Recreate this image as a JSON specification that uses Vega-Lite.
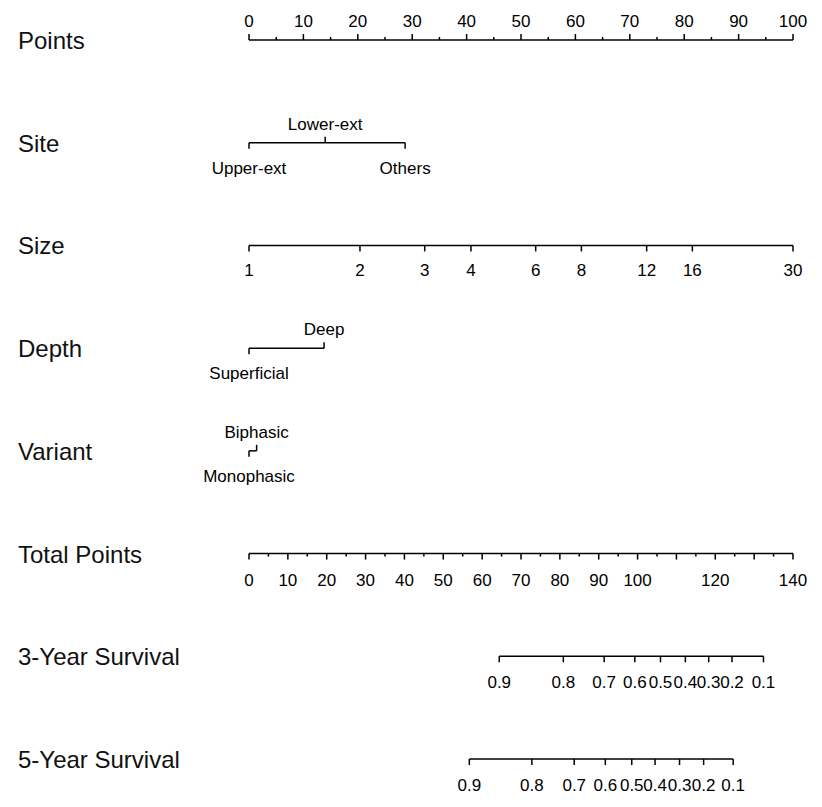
{
  "$schema": "https://vega.github.io/schema/vega-lite/v6.json",
  "width": 822,
  "height": 807,
  "autosize": {"type": "none"},
  "padding": 0,
  "background": "white",
  "config": {"view": {"stroke": null}, "text": {"font": "Liberation Sans", "color": "#000"}},
  "datasets": {
    "titles": [
      {"var": "Points", "row": 0},
      {"var": "Site", "row": 1},
      {"var": "Size", "row": 2},
      {"var": "Depth", "row": 3},
      {"var": "Variant", "row": 4},
      {"var": "Total Points", "row": 5},
      {"var": "3-Year Survival", "row": 6},
      {"var": "5-Year Survival", "row": 7}
    ],
    "ticks": [
      {"var": "Points", "row": 0, "axis": "points", "value": 0, "label": "0", "major": true},
      {"var": "Points", "row": 0, "axis": "points", "value": 5, "label": "", "major": false},
      {"var": "Points", "row": 0, "axis": "points", "value": 10, "label": "10", "major": true},
      {"var": "Points", "row": 0, "axis": "points", "value": 15, "label": "", "major": false},
      {"var": "Points", "row": 0, "axis": "points", "value": 20, "label": "20", "major": true},
      {"var": "Points", "row": 0, "axis": "points", "value": 25, "label": "", "major": false},
      {"var": "Points", "row": 0, "axis": "points", "value": 30, "label": "30", "major": true},
      {"var": "Points", "row": 0, "axis": "points", "value": 35, "label": "", "major": false},
      {"var": "Points", "row": 0, "axis": "points", "value": 40, "label": "40", "major": true},
      {"var": "Points", "row": 0, "axis": "points", "value": 45, "label": "", "major": false},
      {"var": "Points", "row": 0, "axis": "points", "value": 50, "label": "50", "major": true},
      {"var": "Points", "row": 0, "axis": "points", "value": 55, "label": "", "major": false},
      {"var": "Points", "row": 0, "axis": "points", "value": 60, "label": "60", "major": true},
      {"var": "Points", "row": 0, "axis": "points", "value": 65, "label": "", "major": false},
      {"var": "Points", "row": 0, "axis": "points", "value": 70, "label": "70", "major": true},
      {"var": "Points", "row": 0, "axis": "points", "value": 75, "label": "", "major": false},
      {"var": "Points", "row": 0, "axis": "points", "value": 80, "label": "80", "major": true},
      {"var": "Points", "row": 0, "axis": "points", "value": 85, "label": "", "major": false},
      {"var": "Points", "row": 0, "axis": "points", "value": 90, "label": "90", "major": true},
      {"var": "Points", "row": 0, "axis": "points", "value": 95, "label": "", "major": false},
      {"var": "Points", "row": 0, "axis": "points", "value": 100, "label": "100", "major": true},

      {"var": "Site", "row": 1, "axis": "points", "value": 0, "label": "Upper-ext", "major": true},
      {"var": "Site", "row": 1, "axis": "points", "value": 14.0, "label": "Lower-ext", "major": true},
      {"var": "Site", "row": 1, "axis": "points", "value": 28.7, "label": "Others", "major": true},

      {"var": "Size", "row": 2, "axis": "points", "value": 0, "label": "1", "major": true},
      {"var": "Size", "row": 2, "axis": "points", "value": 20.4, "label": "2", "major": true},
      {"var": "Size", "row": 2, "axis": "points", "value": 32.3, "label": "3", "major": true},
      {"var": "Size", "row": 2, "axis": "points", "value": 40.8, "label": "4", "major": true},
      {"var": "Size", "row": 2, "axis": "points", "value": 52.7, "label": "6", "major": true},
      {"var": "Size", "row": 2, "axis": "points", "value": 61.1, "label": "8", "major": true},
      {"var": "Size", "row": 2, "axis": "points", "value": 73.1, "label": "12", "major": true},
      {"var": "Size", "row": 2, "axis": "points", "value": 81.5, "label": "16", "major": true},
      {"var": "Size", "row": 2, "axis": "points", "value": 100, "label": "30", "major": true},

      {"var": "Depth", "row": 3, "axis": "points", "value": 0, "label": "Superficial", "major": true},
      {"var": "Depth", "row": 3, "axis": "points", "value": 13.8, "label": "Deep", "major": true},

      {"var": "Variant", "row": 4, "axis": "points", "value": 0, "label": "Monophasic", "major": true},
      {"var": "Variant", "row": 4, "axis": "points", "value": 1.4, "label": "Biphasic", "major": true},

      {"var": "Total Points", "row": 5, "axis": "total", "value": 0, "label": "0", "major": true},
      {"var": "Total Points", "row": 5, "axis": "total", "value": 5, "label": "", "major": false},
      {"var": "Total Points", "row": 5, "axis": "total", "value": 10, "label": "10", "major": true},
      {"var": "Total Points", "row": 5, "axis": "total", "value": 15, "label": "", "major": false},
      {"var": "Total Points", "row": 5, "axis": "total", "value": 20, "label": "20", "major": true},
      {"var": "Total Points", "row": 5, "axis": "total", "value": 25, "label": "", "major": false},
      {"var": "Total Points", "row": 5, "axis": "total", "value": 30, "label": "30", "major": true},
      {"var": "Total Points", "row": 5, "axis": "total", "value": 35, "label": "", "major": false},
      {"var": "Total Points", "row": 5, "axis": "total", "value": 40, "label": "40", "major": true},
      {"var": "Total Points", "row": 5, "axis": "total", "value": 45, "label": "", "major": false},
      {"var": "Total Points", "row": 5, "axis": "total", "value": 50, "label": "50", "major": true},
      {"var": "Total Points", "row": 5, "axis": "total", "value": 55, "label": "", "major": false},
      {"var": "Total Points", "row": 5, "axis": "total", "value": 60, "label": "60", "major": true},
      {"var": "Total Points", "row": 5, "axis": "total", "value": 65, "label": "", "major": false},
      {"var": "Total Points", "row": 5, "axis": "total", "value": 70, "label": "70", "major": true},
      {"var": "Total Points", "row": 5, "axis": "total", "value": 75, "label": "", "major": false},
      {"var": "Total Points", "row": 5, "axis": "total", "value": 80, "label": "80", "major": true},
      {"var": "Total Points", "row": 5, "axis": "total", "value": 85, "label": "", "major": false},
      {"var": "Total Points", "row": 5, "axis": "total", "value": 90, "label": "90", "major": true},
      {"var": "Total Points", "row": 5, "axis": "total", "value": 95, "label": "", "major": false},
      {"var": "Total Points", "row": 5, "axis": "total", "value": 100, "label": "100", "major": true},
      {"var": "Total Points", "row": 5, "axis": "total", "value": 105, "label": "", "major": false},
      {"var": "Total Points", "row": 5, "axis": "total", "value": 110, "label": "", "major": true},
      {"var": "Total Points", "row": 5, "axis": "total", "value": 115, "label": "", "major": false},
      {"var": "Total Points", "row": 5, "axis": "total", "value": 120, "label": "120", "major": true},
      {"var": "Total Points", "row": 5, "axis": "total", "value": 125, "label": "", "major": false},
      {"var": "Total Points", "row": 5, "axis": "total", "value": 130, "label": "", "major": true},
      {"var": "Total Points", "row": 5, "axis": "total", "value": 135, "label": "", "major": false},
      {"var": "Total Points", "row": 5, "axis": "total", "value": 140, "label": "140", "major": true},

      {"var": "3-Year Survival", "row": 6, "axis": "total", "value": 64.4, "label": "0.9", "major": true},
      {"var": "3-Year Survival", "row": 6, "axis": "total", "value": 80.9, "label": "0.8", "major": true},
      {"var": "3-Year Survival", "row": 6, "axis": "total", "value": 91.4, "label": "0.7", "major": true},
      {"var": "3-Year Survival", "row": 6, "axis": "total", "value": 99.3, "label": "0.6", "major": true},
      {"var": "3-Year Survival", "row": 6, "axis": "total", "value": 105.9, "label": "0.5", "major": true},
      {"var": "3-Year Survival", "row": 6, "axis": "total", "value": 112.3, "label": "0.4", "major": true},
      {"var": "3-Year Survival", "row": 6, "axis": "total", "value": 118.3, "label": "0.3", "major": true},
      {"var": "3-Year Survival", "row": 6, "axis": "total", "value": 124.3, "label": "0.2", "major": true},
      {"var": "3-Year Survival", "row": 6, "axis": "total", "value": 132.4, "label": "0.1", "major": true},

      {"var": "5-Year Survival", "row": 7, "axis": "total", "value": 56.7, "label": "0.9", "major": true},
      {"var": "5-Year Survival", "row": 7, "axis": "total", "value": 72.8, "label": "0.8", "major": true},
      {"var": "5-Year Survival", "row": 7, "axis": "total", "value": 83.7, "label": "0.7", "major": true},
      {"var": "5-Year Survival", "row": 7, "axis": "total", "value": 91.7, "label": "0.6", "major": true},
      {"var": "5-Year Survival", "row": 7, "axis": "total", "value": 98.5, "label": "0.5", "major": true},
      {"var": "5-Year Survival", "row": 7, "axis": "total", "value": 104.5, "label": "0.4", "major": true},
      {"var": "5-Year Survival", "row": 7, "axis": "total", "value": 110.8, "label": "0.3", "major": true},
      {"var": "5-Year Survival", "row": 7, "axis": "total", "value": 117.0, "label": "0.2", "major": true},
      {"var": "5-Year Survival", "row": 7, "axis": "total", "value": 124.6, "label": "0.1", "major": true}
    ]
  },
  "layer": [
    {
      "data": {"name": "titles"},
      "mark": {"type": "text", "align": "left", "baseline": "middle", "fontSize": 24, "dy": 2, "color": "#111"},
      "encoding": {
        "x": {"value": 18},
        "y": {"field": "row", "type": "quantitative", "scale": {"domain": [0, 7], "range": [40, 759], "nice": false, "zero": false}, "axis": null},
        "text": {"field": "var"}
      }
    },
    {
      "data": {"name": "ticks"},
      "transform": [{"filter": "datum.axis == 'points'"}],
      "mark": {"type": "rule", "stroke": "#000", "strokeWidth": 1.5},
      "encoding": {
        "x": {"aggregate": "min", "field": "value", "type": "quantitative", "scale": {"domain": [0, 100], "range": [249, 793], "nice": false, "zero": false}, "axis": null},
        "x2": {"aggregate": "max", "field": "value"},
        "y": {"field": "row", "type": "quantitative", "scale": {"domain": [0, 7], "range": [40, 759], "nice": false, "zero": false}, "axis": null}
      }
    },
    {
      "data": {"name": "ticks"},
      "transform": [{"filter": "datum.axis == 'total'"}],
      "mark": {"type": "rule", "stroke": "#000", "strokeWidth": 1.5},
      "encoding": {
        "x": {"aggregate": "min", "field": "value", "type": "quantitative", "scale": {"domain": [0, 140], "range": [249, 793], "nice": false, "zero": false}, "axis": null},
        "x2": {"aggregate": "max", "field": "value"},
        "y": {"field": "row", "type": "quantitative", "scale": {"domain": [0, 7], "range": [40, 759], "nice": false, "zero": false}, "axis": null}
      }
    },
    {
      "data": {"name": "ticks"},
      "transform": [{"filter": "datum.axis == 'points' && datum.major && (datum.var == 'Points' || datum.label == 'Lower-ext' || datum.label == 'Deep' || datum.label == 'Biphasic')"}],
      "mark": {"type": "rule", "stroke": "#000", "strokeWidth": 1.5, "y2Offset": -6},
      "encoding": {
        "x": {"field": "value", "type": "quantitative", "scale": {"domain": [0, 100], "range": [249, 793], "nice": false, "zero": false}, "axis": null},
        "y": {"field": "row", "type": "quantitative", "scale": {"domain": [0, 7], "range": [40, 759], "nice": false, "zero": false}, "axis": null},
        "y2": {"field": "row"}
      }
    },
    {
      "data": {"name": "ticks"},
      "transform": [{"filter": "datum.axis == 'points' && !datum.major"}],
      "mark": {"type": "rule", "stroke": "#000", "strokeWidth": 1.5, "y2Offset": -3},
      "encoding": {
        "x": {"field": "value", "type": "quantitative", "scale": {"domain": [0, 100], "range": [249, 793], "nice": false, "zero": false}, "axis": null},
        "y": {"field": "row", "type": "quantitative", "scale": {"domain": [0, 7], "range": [40, 759], "nice": false, "zero": false}, "axis": null},
        "y2": {"field": "row"}
      }
    },
    {
      "data": {"name": "ticks"},
      "transform": [{"filter": "datum.axis == 'points' && !(datum.var == 'Points' || datum.label == 'Lower-ext' || datum.label == 'Deep' || datum.label == 'Biphasic')"}],
      "mark": {"type": "rule", "stroke": "#000", "strokeWidth": 1.5, "y2Offset": 6},
      "encoding": {
        "x": {"field": "value", "type": "quantitative", "scale": {"domain": [0, 100], "range": [249, 793], "nice": false, "zero": false}, "axis": null},
        "y": {"field": "row", "type": "quantitative", "scale": {"domain": [0, 7], "range": [40, 759], "nice": false, "zero": false}, "axis": null},
        "y2": {"field": "row"}
      }
    },
    {
      "data": {"name": "ticks"},
      "transform": [{"filter": "datum.axis == 'total' && datum.major"}],
      "mark": {"type": "rule", "stroke": "#000", "strokeWidth": 1.5, "y2Offset": 6},
      "encoding": {
        "x": {"field": "value", "type": "quantitative", "scale": {"domain": [0, 140], "range": [249, 793], "nice": false, "zero": false}, "axis": null},
        "y": {"field": "row", "type": "quantitative", "scale": {"domain": [0, 7], "range": [40, 759], "nice": false, "zero": false}, "axis": null},
        "y2": {"field": "row"}
      }
    },
    {
      "data": {"name": "ticks"},
      "transform": [{"filter": "datum.axis == 'total' && !datum.major"}],
      "mark": {"type": "rule", "stroke": "#000", "strokeWidth": 1.5, "y2Offset": 3},
      "encoding": {
        "x": {"field": "value", "type": "quantitative", "scale": {"domain": [0, 140], "range": [249, 793], "nice": false, "zero": false}, "axis": null},
        "y": {"field": "row", "type": "quantitative", "scale": {"domain": [0, 7], "range": [40, 759], "nice": false, "zero": false}, "axis": null},
        "y2": {"field": "row"}
      }
    },
    {
      "data": {"name": "ticks"},
      "transform": [{"filter": "datum.axis == 'points' && datum.label != '' && (datum.var == 'Points' || datum.label == 'Lower-ext' || datum.label == 'Deep' || datum.label == 'Biphasic')"}],
      "mark": {"type": "text", "align": "center", "baseline": "middle", "fontSize": 17, "dy": -18},
      "encoding": {
        "x": {"field": "value", "type": "quantitative", "scale": {"domain": [0, 100], "range": [249, 793], "nice": false, "zero": false}, "axis": null},
        "y": {"field": "row", "type": "quantitative", "scale": {"domain": [0, 7], "range": [40, 759], "nice": false, "zero": false}, "axis": null},
        "text": {"field": "label"}
      }
    },
    {
      "data": {"name": "ticks"},
      "transform": [{"filter": "datum.axis == 'points' && datum.label != '' && !(datum.var == 'Points' || datum.label == 'Lower-ext' || datum.label == 'Deep' || datum.label == 'Biphasic')"}],
      "mark": {"type": "text", "align": "center", "baseline": "middle", "fontSize": 17, "dy": 26},
      "encoding": {
        "x": {"field": "value", "type": "quantitative", "scale": {"domain": [0, 100], "range": [249, 793], "nice": false, "zero": false}, "axis": null},
        "y": {"field": "row", "type": "quantitative", "scale": {"domain": [0, 7], "range": [40, 759], "nice": false, "zero": false}, "axis": null},
        "text": {"field": "label"}
      }
    },
    {
      "data": {"name": "ticks"},
      "transform": [{"filter": "datum.axis == 'total' && datum.label != ''"}],
      "mark": {"type": "text", "align": "center", "baseline": "middle", "fontSize": 17, "dy": 27},
      "encoding": {
        "x": {"field": "value", "type": "quantitative", "scale": {"domain": [0, 140], "range": [249, 793], "nice": false, "zero": false}, "axis": null},
        "y": {"field": "row", "type": "quantitative", "scale": {"domain": [0, 7], "range": [40, 759], "nice": false, "zero": false}, "axis": null},
        "text": {"field": "label"}
      }
    }
  ],
  "resolve": {"scale": {"x": "independent"}}
}
